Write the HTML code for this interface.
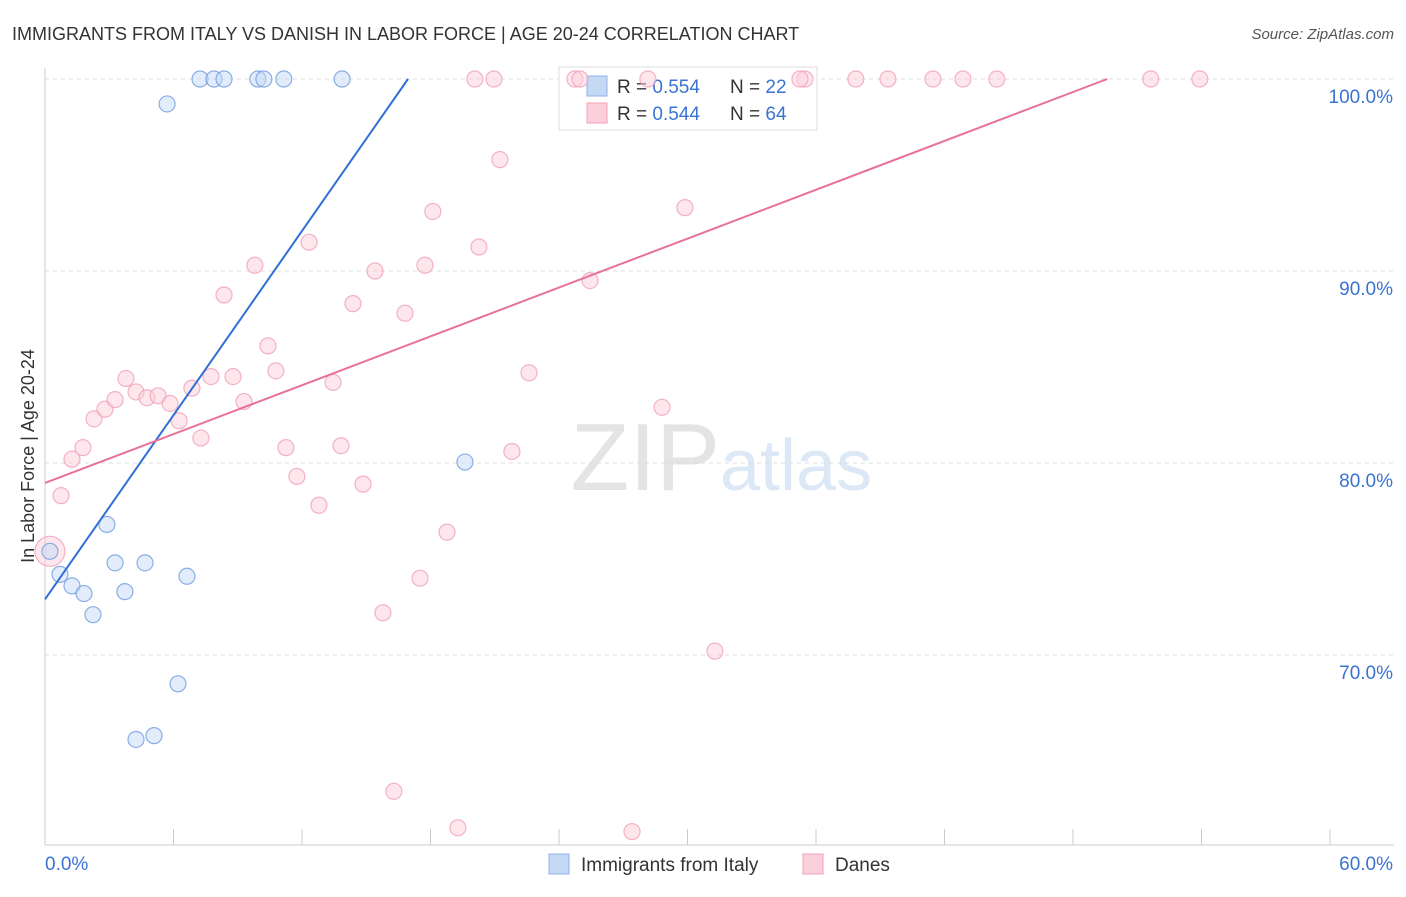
<!DOCTYPE html>
<html><head><meta charset="utf-8"><style>
body{margin:0;background:#fff;font-family:"Liberation Sans",sans-serif;}
svg text{font-family:"Liberation Sans",sans-serif;}
</style></head><body>
<svg id="c" width="1406" height="892" xmlns="http://www.w3.org/2000/svg">
<text x="12" y="40" font-size="18" fill="#333">IMMIGRANTS FROM ITALY VS DANISH IN LABOR FORCE | AGE 20-24 CORRELATION CHART</text>
<text x="1394" y="39" font-size="15" fill="#555" text-anchor="end" font-style="italic">Source: ZipAtlas.com</text>
<text x="720" y="490" font-size="96" fill="#e4e4e4" text-anchor="end" font-family="Liberation Serif">ZIP</text>
<text x="720" y="490" font-size="72" fill="#dce8f6">atlas</text>
<g id="grid"></g>
<g>
<rect x="559" y="67" width="258" height="63" fill="#fff" stroke="#ddd"/>
<rect x="587" y="76" width="20" height="20" fill="#c5d9f5" stroke="#8fb3e8"/>
<text x="617" y="93" font-size="19" fill="#333">R = <tspan fill="#3b73d1">0.554</tspan></text>
<text x="730" y="93" font-size="19" fill="#333">N = <tspan fill="#3b73d1">22</tspan></text>
<rect x="587" y="103" width="20" height="20" fill="#fbd0dc" stroke="#f0a0b8"/>
<text x="617" y="120" font-size="19" fill="#333">R = <tspan fill="#3b73d1">0.544</tspan></text>
<text x="730" y="120" font-size="19" fill="#333">N = <tspan fill="#3b73d1">64</tspan></text>
</g>
<g id="pts"></g><g id="lines"></g>
<text transform="translate(34,456) rotate(-90)" font-size="18" fill="#333" text-anchor="middle">In Labor Force | Age 20-24</text>
<g>
<rect x="549" y="854" width="20" height="20" fill="#c5d9f5" stroke="#8fb3e8"/>
<text x="581" y="871" font-size="19" fill="#333">Immigrants from Italy</text>
<rect x="803" y="854" width="20" height="20" fill="#fbd0dc" stroke="#f0a0b8"/>
<text x="835" y="871" font-size="19" fill="#333">Danes</text>
</g>
</svg>
<script>
const xTicks=[0,6,12,18,24,30,36,42,48,54,60];
const yTicks=[70,80,90,100];
const italyX=[7.24,7.89,8.36,9.94,10.22,11.15,13.87,5.70,19.61,2.89,3.27,4.67,6.63,0.70,1.26,1.82,3.73,2.24,6.21,4.25,5.09,0.23];
const italyY=[100,100,100,100,100,100,100,98.7,80.05,76.8,74.8,74.8,74.1,74.2,73.6,73.2,73.3,72.1,68.5,65.6,65.8,75.4];
const danesX=[0.23,0.75,1.26,1.77,2.29,2.8,3.27,3.78,4.25,4.76,5.28,5.84,6.26,6.86,7.28,7.75,8.36,8.78,9.29,9.8,10.41,10.78,11.25,11.76,12.33,12.79,13.45,13.82,14.38,14.85,15.41,15.78,16.29,16.81,17.51,17.74,18.11,18.77,19.28,20.07,20.26,20.96,21.24,21.8,22.6,24.74,25.45,27.41,28.15,28.81,29.88,31.28,35.48,37.86,39.36,41.46,42.86,44.44,51.63,53.92,24.98,35.25];
const danesY=[75.4,78.3,80.2,80.8,82.3,82.8,83.3,84.4,83.7,83.4,83.5,83.1,82.2,83.9,81.3,84.5,88.75,84.5,83.2,90.3,86.1,84.8,80.8,79.3,91.5,77.8,84.2,80.9,88.3,78.9,90.0,72.2,62.9,87.8,74.0,90.3,93.1,76.4,61.0,100,91.25,100,95.8,80.6,84.7,100,89.5,60.8,100,82.9,93.3,70.2,100,100,100,100,100,100,100,100,100,100];
const italyLine=[[0,72.9],[16.95,100]];
const danesLine=[[0,78.96],[49.6,100]];
const NS="http://www.w3.org/2000/svg";
const X=v=>45+v*1285/60, Y=v=>79+(100-v)*19.2;
function mk(t,a,p){const e=document.createElementNS(NS,t);for(const k in a)e.setAttribute(k,a[k]);p.appendChild(e);return e;}
const g=document.getElementById('grid'),pts=document.getElementById('pts'),ln=document.getElementById('lines');
yTicks.forEach(v=>{const l=mk('line',{x1:45,x2:1394,y1:Y(v),y2:Y(v),stroke:'#ddd','stroke-dasharray':'4,4'},g);


const t=mk('text',{x:1393,y:Y(v)+24,'font-size':19,fill:'#3b73d1','text-anchor':'end'},g);t.textContent=v.toFixed(1)+'%';

});
const ax=mk('line',{x1:45,x2:45,y1:68,y2:845,stroke:'#ccc'},g);


const bx=mk('line',{x1:45,x2:1394,y1:845,y2:845,stroke:'#ccc'},g);


xTicks.forEach(v=>{const l=mk('line',{x1:X(v),x2:X(v),y1:829,y2:845,stroke:'#ccc'},g);

});
[[0,'start'],[60,'end']].forEach(([v,a])=>{const t=mk('text',{x:X(v)+(a=='end'?63:0),y:870,'font-size':19,fill:'#3b73d1','text-anchor':a},g);t.textContent=v.toFixed(1)+'%';

});
function dots(xs,ys,fill,stroke,name,bigR){xs.forEach((x,i)=>{const big=i==0;
const c=mk('circle',{cx:X(x),cy:Y(ys[i]),r:big?bigR:8,fill:fill,'fill-opacity':0.5,stroke:stroke,'stroke-width':1.2,'stroke-opacity':0.8},pts);

});}
dots(danesX,danesY,'#fbd0dc','#f0a0b8','danes-point',15);
dots(italyX,italyY,'#c5d9f5','#6f9be0','italy-point',8);
const l1=mk('line',{x1:X(italyLine[0][0]),y1:Y(italyLine[0][1]),x2:X(italyLine[1][0]),y2:Y(italyLine[1][1]),stroke:'#2f6fd6','stroke-width':2},ln);


const l2=mk('line',{x1:X(danesLine[0][0]),y1:Y(danesLine[0][1]),x2:X(danesLine[1][0]),y2:Y(danesLine[1][1]),stroke:'#e8719a','stroke-width':2},ln);


</script>
</body></html>
